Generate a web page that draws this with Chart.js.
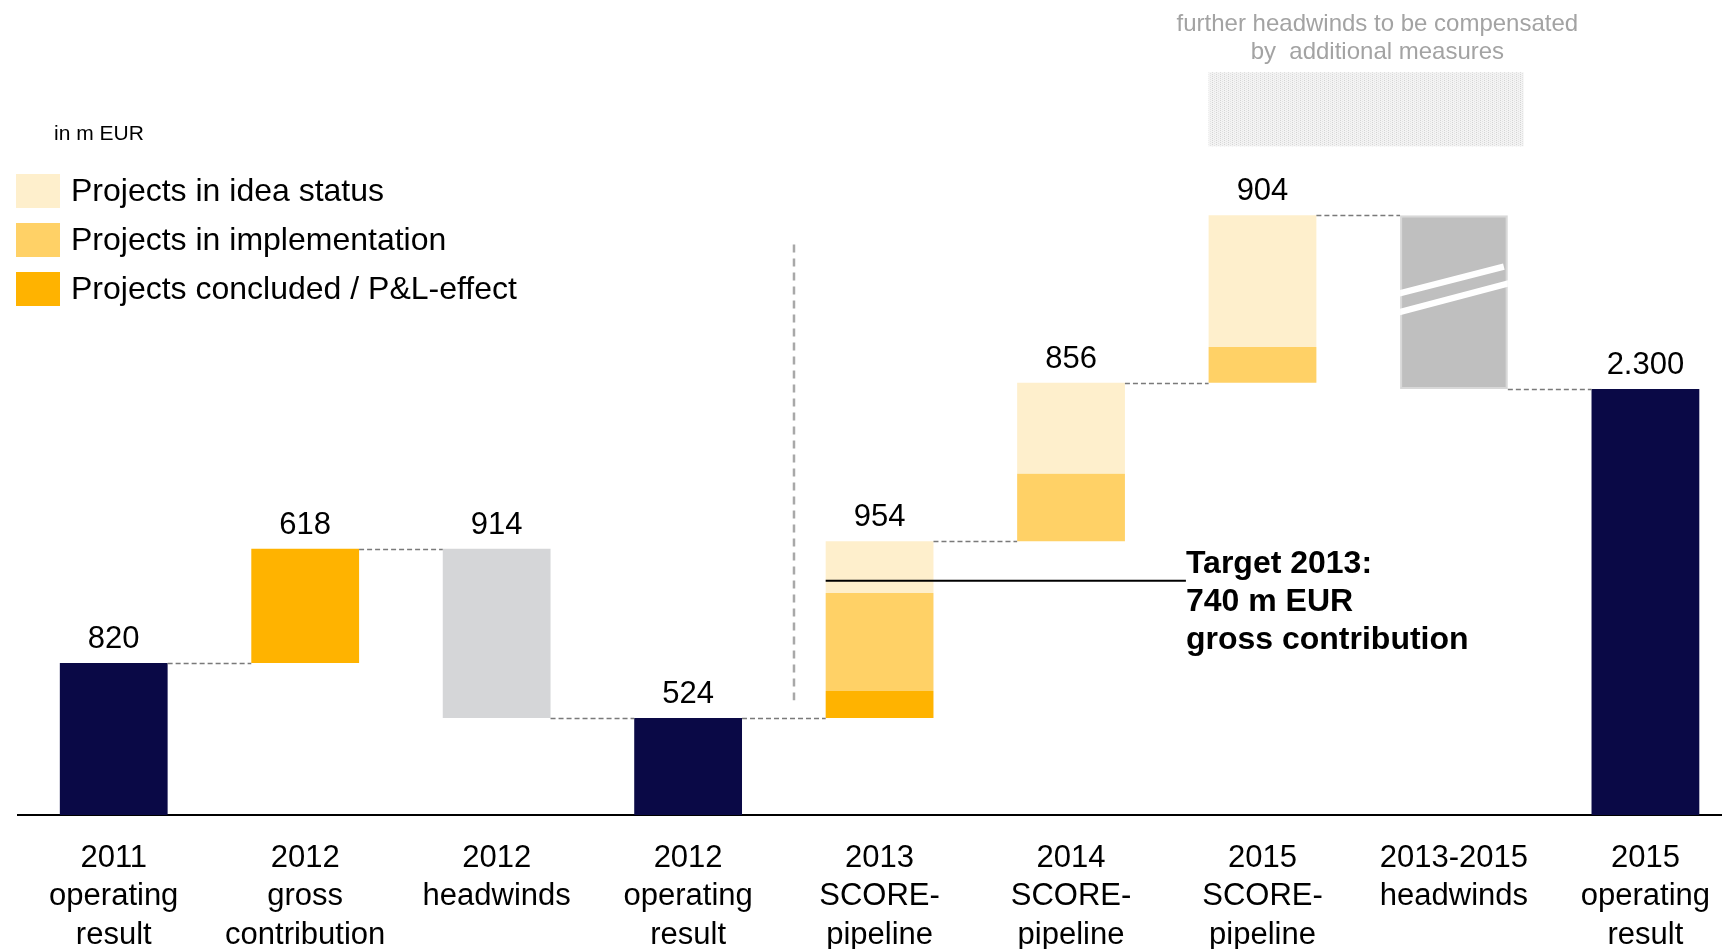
<!DOCTYPE html>
<html>
<head>
<meta charset="utf-8">
<title>SCORE pipeline bridge</title>
<script src="https://cdn.jsdelivr.net/npm/chart.js@4"></script>
<style>
  html, body { margin: 0; padding: 0; background: #fff; overflow: hidden; }
  #wrap { width: 1722px; height: 949px; }
</style>
</head>
<body>
<div id="wrap"><canvas id="bridge"></canvas></div>
<script>
const FONT = '"Liberation Sans", Arial, sans-serif';

const tickLabels = [
  ['2011', 'operating', 'result'],
  ['2012', 'gross', 'contribution'],
  ['2012', 'headwinds'],
  ['2012', 'operating', 'result'],
  ['2013', 'SCORE-', 'pipeline'],
  ['2014', 'SCORE-', 'pipeline'],
  ['2015', 'SCORE-', 'pipeline'],
  ['2013-2015', 'headwinds'],
  ['2015', 'operating', 'result']
];
const valueLabels = ['820', '618', '914', '524', '954', '856', '904', '', '2.300'];

const operatingResult   = [820, null, null, 524, null, null, null, null, 2300];
const grossContribution = [null, 618, null, null, null, null, null, null, null];
const headwinds         = [null, null, -914, null, null, null, null, -938, null];
// SCORE pipeline split by project status
const concluded      = [null, null, null, null, 146, 0, 0, null, null];
const implementation = [null, null, null, null, 529, 365, 193, null, null];
const ideaStatus     = [null, null, null, null, 279, 491, 711, null, null];

const target2013 = 740;

const NAVY = '#0A0946';
const C_CONCLUDED = '#FFB300';
const C_IMPL = '#FFD166';
const C_IDEA = '#FEEFCC';

// build floating bars + running levels
let level = 0;
const levels = [];
const tops = [];
const pts = { result: [], gross: [], headwinds: [], concluded: [], implementation: [], idea: [] };

tickLabels.forEach((_, i) => {
  if (operatingResult[i] != null) {
    level = operatingResult[i];
    pts.result.push({ x: i, y: [0, level] });
    tops.push(level);
  } else if (grossContribution[i] != null) {
    pts.gross.push({ x: i, y: [level, level + grossContribution[i]] });
    level += grossContribution[i];
    tops.push(level);
  } else if (headwinds[i] != null) {
    pts.headwinds.push({ x: i, y: [level + headwinds[i], level] });
    tops.push(level);
    level += headwinds[i];
  } else {
    let base = level;
    [[concluded, 'concluded'], [implementation, 'implementation'], [ideaStatus, 'idea']].forEach(([arr, key]) => {
      if (arr[i]) pts[key].push({ x: i, y: [base, base + arr[i]] });
      base += arr[i] || 0;
    });
    level = base;
    tops.push(level);
  }
  levels.push(level);
});

const BAR_PCT = 0.563;

function dotPattern(ctx) {
  const c = document.createElement('canvas');
  c.width = 4; c.height = 4;
  const g = c.getContext('2d');
  g.fillStyle = '#f3f3f3'; g.fillRect(0, 0, 4, 4);
  g.fillStyle = '#d4d4d4'; g.fillRect(0, 0, 1, 1); g.fillRect(0, 2, 1, 1);
  g.fillStyle = '#e2e2e2'; g.fillRect(2, 1, 1, 1); g.fillRect(2, 3, 1, 1);
  return ctx.createPattern(c, 'repeat');
}

const extras = {
  id: 'extras',
  afterDraw(chart) {
    const { ctx } = chart;
    const x = chart.scales.x, y = chart.scales.y;
    const half = (x.getPixelForValue(1) - x.getPixelForValue(0)) * BAR_PCT / 2;
    ctx.save();

    // dashed connectors between columns
    ctx.strokeStyle = '#7a7a7a';
    ctx.lineWidth = 1.3;
    ctx.setLineDash([5, 3]);
    for (let i = 0; i < levels.length - 1; i++) {
      const yy = Math.round(y.getPixelForValue(levels[i])) + 0.5;
      ctx.beginPath();
      ctx.moveTo(x.getPixelForValue(i) + half, yy);
      ctx.lineTo(x.getPixelForValue(i + 1) - half, yy);
      ctx.stroke();
    }

    // separator between actuals and pipeline
    ctx.strokeStyle = '#a8a8a8';
    ctx.lineWidth = 2.5;
    ctx.setLineDash([8, 6]);
    ctx.beginPath();
    ctx.moveTo(x.getPixelForValue(3.553), y.getPixelForValue(3080));
    ctx.lineTo(x.getPixelForValue(3.553), y.getPixelForValue(620));
    ctx.stroke();
    ctx.setLineDash([]);

    // break marks on the 2013-2015 headwinds column
    const hx = x.getPixelForValue(7);
    const hl = hx - half, hr = hx + half;
    const ht = y.getPixelForValue(levels[6]), hb = y.getPixelForValue(levels[7]);
    const hh = hb - ht;
    ctx.save();
    ctx.beginPath();
    ctx.rect(hl, ht, hr - hl, hh);
    ctx.clip();
    ctx.strokeStyle = '#fff';
    ctx.lineWidth = 6.3;
    ctx.beginPath();
    ctx.moveTo(hl - 2, ht + 0.452 * hh);
    ctx.lineTo(hr - 4, ht + 0.296 * hh);
    ctx.moveTo(hl - 2, ht + 0.560 * hh);
    ctx.lineTo(hr + 2, ht + 0.390 * hh);
    ctx.stroke();
    ctx.restore();

    // target line for 2013
    const ty = y.getPixelForValue(levels[3] + target2013);
    const tx = x.getPixelForValue(5.6);
    ctx.strokeStyle = '#000';
    ctx.lineWidth = 2;
    ctx.beginPath();
    ctx.moveTo(x.getPixelForValue(4) - half, ty);
    ctx.lineTo(tx, ty);
    ctx.stroke();
    ctx.fillStyle = '#000';
    ctx.font = 'bold 32px ' + FONT;
    ctx.textAlign = 'left';
    ctx.textBaseline = 'alphabetic';
    ['Target 2013:', target2013 + ' m EUR', 'gross contribution'].forEach((t, k) => {
      ctx.fillText(t, tx, ty - 8 + k * 38);
    });

    // value labels
    ctx.font = '31px ' + FONT;
    ctx.textAlign = 'center';
    valueLabels.forEach((t, i) => {
      if (!t) return;
      ctx.fillText(t, x.getPixelForValue(i), y.getPixelForValue(tops[i]) - 15);
    });

    // further headwinds placeholder
    const bx0 = x.getPixelForValue(6) - half, bx1 = x.getPixelForValue(7.364);
    const by0 = y.getPixelForValue(4010), by1 = y.getPixelForValue(3610);
    ctx.fillStyle = dotPattern(ctx);
    ctx.fillRect(bx0, by0, bx1 - bx0, by1 - by0);
    ctx.fillStyle = '#a3a3a3';
    ctx.font = '24px ' + FONT;
    const cx = x.getPixelForValue(6.6);
    ctx.fillText('further headwinds to be compensated', cx, by0 - 41);
    ctx.fillText('by  additional measures', cx, by0 - 13.5);

    // unit note + legend
    ctx.fillStyle = '#000';
    ctx.textAlign = 'left';
    ctx.textBaseline = 'middle';
    ctx.font = '21px ' + FONT;
    ctx.fillText('in m EUR', 54, 134);
    ctx.font = '32px ' + FONT;
    [3, 4, 5].map(d => chart.data.datasets[d]).reverse().forEach((ds, k) => {
      const top = 174 + k * 49;
      ctx.fillStyle = ds.backgroundColor;
      ctx.fillRect(16, top, 44, 34);
      ctx.fillStyle = '#000';
      ctx.fillText(ds.label, 71, top + 18);
    });

    ctx.restore();
  }
};

const barDefaults = { grouped: false, categoryPercentage: 1, barPercentage: BAR_PCT, borderWidth: 0, borderSkipped: false };

new Chart(document.getElementById('bridge'), {
  type: 'bar',
  data: {
    datasets: [
      { ...barDefaults, label: 'Operating result', data: pts.result, backgroundColor: NAVY },
      { ...barDefaults, label: 'Gross contribution', data: pts.gross, backgroundColor: C_CONCLUDED },
      {
        ...barDefaults, label: 'Headwinds', data: pts.headwinds,
        backgroundColor: c => (c.raw && c.raw.x > 4 ? '#BFBFBF' : '#D5D6D8'),
        borderColor: '#D8D8D8',
        borderWidth: c => (c.raw && c.raw.x > 4 ? 2 : 0)
      },
      { ...barDefaults, label: 'Projects concluded / P&L-effect', data: pts.concluded, backgroundColor: C_CONCLUDED },
      { ...barDefaults, label: 'Projects in implementation', data: pts.implementation, backgroundColor: C_IMPL },
      { ...barDefaults, label: 'Projects in idea status', data: pts.idea, backgroundColor: C_IDEA }
    ]
  },
  options: {
    responsive: true,
    maintainAspectRatio: false,
    animation: false,
    layout: { padding: { left: 18, right: 0, top: 0, bottom: 0 } },
    plugins: { legend: { display: false }, tooltip: { enabled: false } },
    scales: {
      x: {
        type: 'linear',
        offset: false,
        min: -0.5,
        max: 8.4,
        afterBuildTicks: s => { s.ticks = tickLabels.map((_, i) => ({ value: i })); },
        afterFit: s => { s.height = 134; s.paddingLeft = 0; s.paddingRight = 0; },
        grid: { display: false, drawTicks: false, offset: false },
        border: { display: true, color: '#000', width: 2 },
        ticks: {
          autoSkip: false,
          maxRotation: 0,
          padding: 24,
          color: '#000',
          font: { family: FONT, size: 31, lineHeight: 1.24 },
          callback: v => tickLabels[v]
        }
      },
      y: { display: false, min: 0, max: 4400 }
    }
  },
  plugins: [extras]
});
</script>
</body>
</html>
